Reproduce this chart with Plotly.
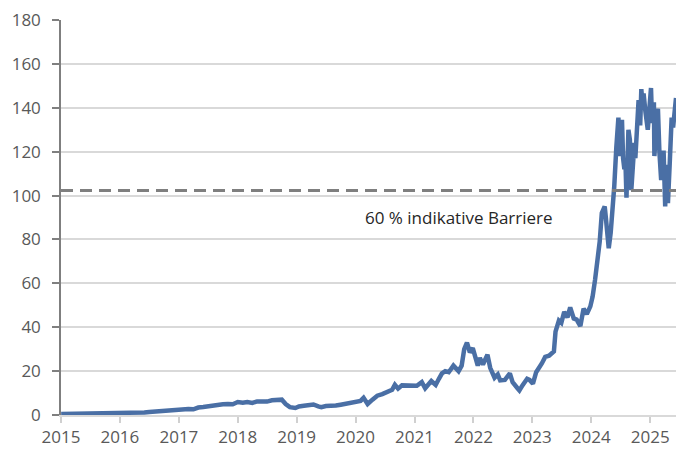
import plotly.graph_objects as go

dates = [
    "2015-01-02", "2015-02-01", "2015-03-01", "2015-04-01", "2015-05-01", "2015-06-01",
    "2015-07-01", "2015-08-01", "2015-09-01", "2015-10-01", "2015-11-01", "2015-12-01",
    "2016-01-01", "2016-02-01", "2016-03-01", "2016-04-01", "2016-05-01", "2016-06-01",
    "2016-07-01", "2016-08-01", "2016-09-01", "2016-10-01", "2016-11-01", "2016-12-01",
    "2017-01-01", "2017-02-01", "2017-03-01", "2017-04-01", "2017-05-01", "2017-06-01",
    "2017-07-01", "2017-08-01", "2017-09-01", "2017-10-01", "2017-11-01", "2017-12-01",
    "2018-01-01", "2018-02-01", "2018-03-01", "2018-04-01", "2018-05-01", "2018-06-01",
    "2018-07-01", "2018-08-01", "2018-09-01", "2018-10-01", "2018-10-25", "2018-11-20",
    "2018-12-24", "2019-01-15", "2019-02-15", "2019-03-15", "2019-04-15", "2019-05-15",
    "2019-06-03", "2019-07-01", "2019-08-01", "2019-09-01", "2019-10-01", "2019-11-01",
    "2019-12-01", "2020-01-01", "2020-02-01", "2020-02-20", "2020-03-16", "2020-04-15",
    "2020-05-15", "2020-06-15", "2020-07-15", "2020-08-15", "2020-09-01", "2020-09-21",
    "2020-10-15", "2020-11-15", "2020-12-15", "2021-01-15", "2021-02-15", "2021-03-08",
    "2021-04-15", "2021-05-12", "2021-06-01", "2021-06-20", "2021-07-10", "2021-08-01",
    "2021-08-30", "2021-10-01", "2021-10-20", "2021-11-05", "2021-11-22", "2021-12-10",
    "2021-12-28", "2022-01-15", "2022-01-28", "2022-02-10", "2022-03-01", "2022-03-29",
    "2022-04-15", "2022-05-12", "2022-06-01", "2022-06-16", "2022-07-15", "2022-08-15",
    "2022-09-01", "2022-09-30", "2022-10-13", "2022-11-01", "2022-11-30", "2022-12-15",
    "2023-01-05", "2023-01-25", "2023-02-15", "2023-03-01", "2023-03-22", "2023-04-15",
    "2023-05-15", "2023-05-25", "2023-06-15", "2023-06-30", "2023-07-18", "2023-08-07",
    "2023-08-24", "2023-09-15", "2023-10-03", "2023-10-26", "2023-11-15", "2023-12-05",
    "2023-12-27", "2024-01-10", "2024-01-25", "2024-02-08", "2024-02-23", "2024-03-07",
    "2024-03-25", "2024-04-01", "2024-04-19", "2024-05-01", "2024-05-15", "2024-05-23",
    "2024-06-05", "2024-06-18", "2024-06-24", "2024-07-01", "2024-07-10", "2024-07-17",
    "2024-07-25", "2024-07-31", "2024-08-05", "2024-08-07", "2024-08-19", "2024-08-28",
    "2024-09-06", "2024-09-18", "2024-09-25", "2024-10-01", "2024-10-14", "2024-10-21",
    "2024-10-31", "2024-11-07", "2024-11-15", "2024-11-21", "2024-12-02", "2024-12-17",
    "2025-01-06", "2025-01-13", "2025-01-24", "2025-01-27", "2025-02-14", "2025-02-18",
    "2025-02-27", "2025-03-10", "2025-03-25", "2025-04-04", "2025-04-09", "2025-04-21",
    "2025-05-02", "2025-05-14", "2025-05-23", "2025-05-28", "2025-06-06", "2025-06-10",
]

prices = [
    0.50, 0.52, 0.55, 0.52, 0.55, 0.55,
    0.50, 0.55, 0.55, 0.65, 0.78, 0.82,
    0.80, 0.72, 0.88, 0.90, 1.15, 1.15,
    1.40, 1.55, 1.70, 1.75, 2.30, 2.55,
    2.65, 2.75, 2.70, 2.60, 3.40, 3.60,
    4.00, 4.10, 4.40, 4.90, 5.00, 4.90,
    5.90, 5.60, 5.90, 5.50, 6.20, 6.20,
    6.10, 6.70, 6.90, 7.00, 5.00, 3.60,
    3.20, 3.90, 4.20, 4.60, 4.80, 3.90,
    3.60, 4.10, 4.00, 4.30, 4.70, 5.10,
    5.50, 6.00, 6.40, 7.80, 5.00, 7.00,
    8.80, 9.50, 10.50, 11.50, 13.80, 12.00,
    13.50, 13.50, 13.20, 13.30, 15.00, 12.20,
    15.50, 13.70, 16.50, 19.00, 20.00, 19.50,
    22.50, 20.00, 22.50, 30.00, 33.00, 28.50,
    30.50, 25.50, 22.50, 26.00, 23.00, 27.50,
    21.50, 17.00, 18.50, 15.80, 16.00, 19.00,
    15.00, 12.30, 11.20, 13.50, 16.50, 16.00,
    14.30, 19.50, 21.50, 23.50, 26.50, 27.00,
    29.00, 38.00, 43.00, 42.00, 47.00, 44.50,
    49.00, 44.00, 43.50, 40.50, 48.50, 46.00,
    49.50, 54.00, 61.50, 69.50, 79.00, 92.00,
    95.00, 90.00, 76.00, 83.00, 94.00, 104.00,
    122.00, 135.50, 118.00, 124.00, 134.50, 117.00,
    112.00, 117.00, 100.00, 99.00, 130.00, 125.50,
    102.50, 113.00, 124.00, 117.00, 138.50, 143.50,
    132.00, 148.50, 141.00, 146.50, 138.50, 130.00,
    149.00, 133.00, 142.50, 118.00, 138.50, 139.50,
    120.00, 107.00, 120.50, 95.00, 114.00, 96.50,
    114.50, 135.50, 131.00, 134.50, 141.50, 144.50,
]

barrier_level = 102.3
barrier_label = "60 % indikative Barriere"
year_ticks = [f"{y}-01-01" for y in range(2015, 2026)]
year_labels = [str(y) for y in range(2015, 2026)]
y_ticks = list(range(0, 181, 20))

fig = go.Figure()
fig.add_trace(go.Scatter(
    x=dates, y=prices, mode="lines",
    line=dict(color="#4A6FA5", width=4.5),
    showlegend=False, hoverinfo="skip",
))

fig.add_shape(
    type="line", xref="paper", x0=0, x1=1, yref="y", y0=barrier_level, y1=barrier_level,
    line=dict(color="#7F7F7F", width=3, dash="12px,7px"), layer="above",
)
fig.add_annotation(
    xref="paper", x=0.647, yref="y", y=90.2, text=barrier_label, showarrow=False,
    font=dict(family="Open Sans", size=17, color="#262626"),
)

fig.update_layout(
    width=676, height=452,
    margin=dict(l=61, r=0, t=20, b=37),
    paper_bgcolor="white", plot_bgcolor="white",
    font=dict(family="Open Sans", size=17, color="#595959"),
)
fig.update_xaxes(
    type="date", range=["2015-01-01", "2025-06-10"],
    tickmode="array", tickvals=year_ticks, ticktext=year_labels,
    showgrid=False, showline=True, linecolor="#D9D9D9", linewidth=1.5,
    ticks="outside", ticklen=6, tickcolor="#D0D0D0", tickwidth=1.5,
    tickfont=dict(size=17, color="#595959"), layer="below traces",
)
fig.update_yaxes(
    range=[0, 180], tickmode="array", tickvals=y_ticks,
    showgrid=True, gridcolor="#D9D9D9", gridwidth=1.5, zeroline=False,
    showline=True, linecolor="#7F7F7F", linewidth=1.5,
    ticks="outside", ticklen=7, tickcolor="#7F7F7F", tickwidth=1.5,
    tickfont=dict(size=17, color="#595959"), ticklabelstandoff=8,
)

fig.write_html(
    "out.html",
    config={"displayModeBar": False},
    post_script="document.body.style.margin='0';document.body.style.overflow='hidden';",
)
